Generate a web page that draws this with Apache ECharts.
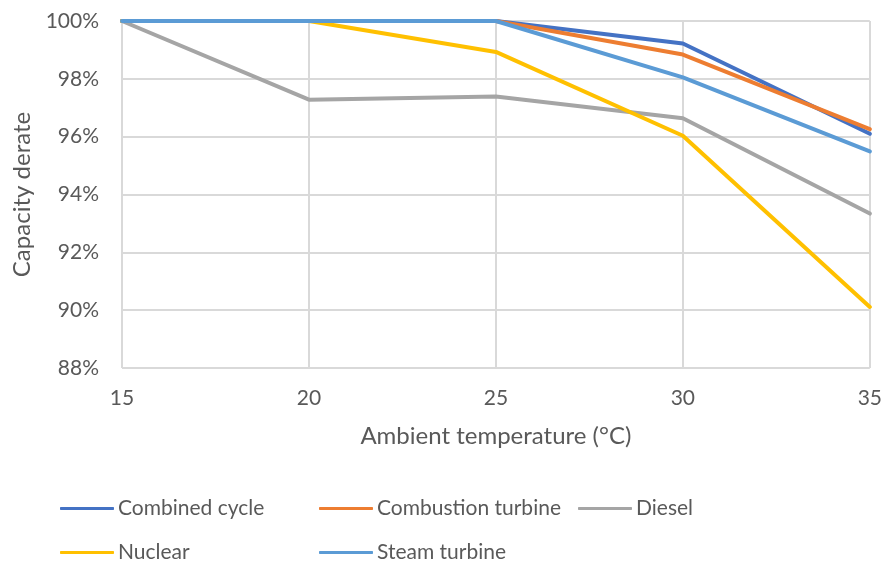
<!DOCTYPE html>
<html>
<head>
<meta charset="utf-8">
<script src="https://cdn.jsdelivr.net/npm/echarts@6/dist/echarts.min.js"></script>
<style>
  html, body { margin: 0; padding: 0; background: #fff; }
  #chart { width: 885px; height: 565px; }
</style>
</head>
<body>
<div id="chart"></div>
<script>
// Ambient temperature (°C) on the x axis
const temperatures = [15, 20, 25, 30, 35];

// Capacity derate (%) per technology
const combinedCycle     = [100, 100, 100, 99.22, 96.10];
const combustionTurbine = [100, 100, 100, 98.84, 96.26];
const diesel            = [100, 97.28, 97.39, 96.64, 93.34];
const nuclear           = [100, 100, 98.93, 96.03, 90.11];
const steamTurbine      = [100, 100, 100, 98.05, 95.49];

const seriesNames  = ['Combined cycle', 'Combustion turbine', 'Diesel', 'Nuclear', 'Steam turbine'];
const seriesValues = [combinedCycle, combustionTurbine, diesel, nuclear, steamTurbine];
const seriesColors = ['#4472C4', '#ED7D31', '#A5A5A5', '#FFC000', '#5B9BD5'];

const FONT = 'Lato';
const TEXT_COLOR = '#595959';

// one legend block per entry so the two rows line up in columns
const legendSlots = [
  { left: 60,  top: 498 },
  { left: 319, top: 498 },
  { left: 578, top: 498 },
  { left: 60,  top: 542 },
  { left: 319, top: 542 }
];

const chart = echarts.init(document.getElementById('chart'), null, { renderer: 'canvas' });

chart.setOption({
  animation: false,
  backgroundColor: '#ffffff',
  textStyle: { fontFamily: FONT },
  grid: { left: 122, right: 14, top: 21, bottom: 197, containLabel: false },
  xAxis: {
    type: 'value',
    min: 15, max: 35, interval: 5,
    name: 'Ambient temperature (°C)',
    nameLocation: 'middle',
    nameGap: 56,
    nameTextStyle: { fontFamily: FONT, fontSize: 24, color: TEXT_COLOR },
    axisLine: { show: false },
    axisTick: { show: false },
    axisLabel: { fontFamily: FONT, fontSize: 21, color: TEXT_COLOR, margin: 20 },
    splitLine: { show: true, lineStyle: { color: '#D9D9D9', width: 2 } }
  },
  yAxis: {
    type: 'value',
    min: 88, max: 100, interval: 2,
    name: 'Capacity derate',
    nameLocation: 'middle',
    nameGap: 86,
    nameTextStyle: { fontFamily: FONT, fontSize: 24, color: TEXT_COLOR },
    axisLine: { show: false },
    axisTick: { show: false },
    axisLabel: { fontFamily: FONT, fontSize: 21, color: TEXT_COLOR, margin: 23, formatter: '{value}%' },
    splitLine: { show: true, lineStyle: { color: '#D9D9D9', width: 2 } }
  },
  legend: seriesNames.map((name, i) => ({
    data: [{ name: name, icon: 'roundRect' }],
    left: legendSlots[i].left,
    top: legendSlots[i].top,
    orient: 'horizontal',
    itemWidth: 54,
    itemHeight: 3,
    itemGap: 0,
    padding: 0,
    itemStyle: { borderRadius: 1.5 },
    textStyle: { fontFamily: FONT, fontSize: 21, color: TEXT_COLOR, padding: [0, 0, 0, -1] }
  })),
  series: seriesNames.map((name, i) => ({
    name: name,
    type: 'line',
    data: temperatures.map((t, j) => [t, seriesValues[i][j]]),
    symbol: 'none',
    color: seriesColors[i],
    lineStyle: { width: 4, color: seriesColors[i], cap: 'round', join: 'round' },
    z: 2 + i
  }))
});
</script>
</body>
</html>
